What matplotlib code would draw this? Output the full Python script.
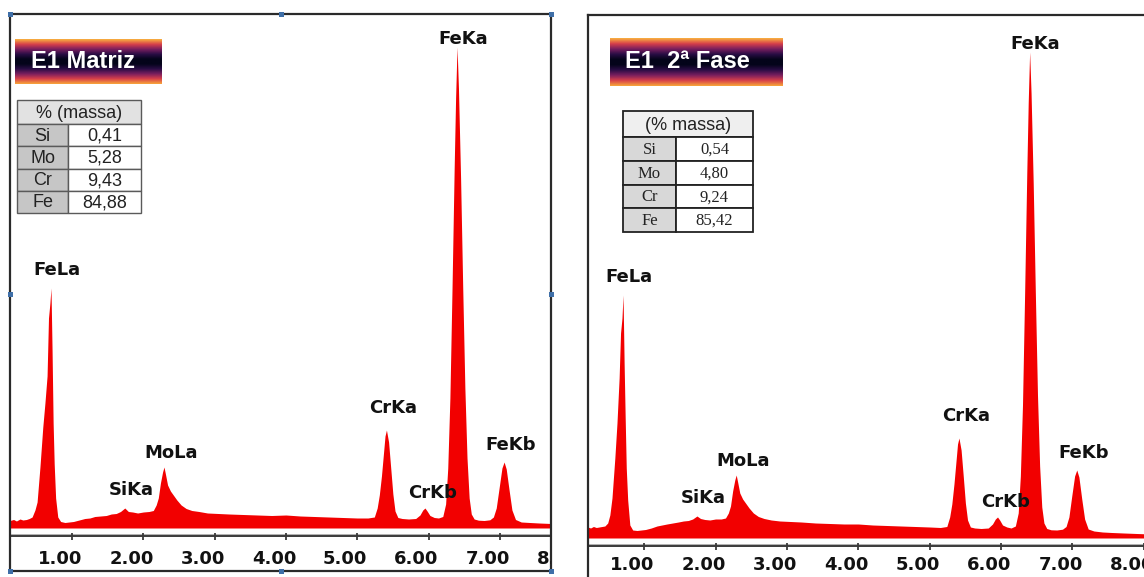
import numpy as np
import matplotlib
matplotlib.use('Agg')
import matplotlib.pyplot as plt
import matplotlib.transforms as mtransforms
from matplotlib.patches import Rectangle
from matplotlib.colors import LinearSegmentedColormap

# ---- composition tables (% massa) ----
elements = ['Si', 'Mo', 'Cr', 'Fe']
massa_matriz = [0.41, 5.28, 9.43, 84.88]
massa_fase = [0.54, 4.80, 9.24, 85.42]

# ---- peak identification ----
peak_names = ['FeLa', 'SiKa', 'MoLa', 'CrKa', 'CrKb', 'FeKa', 'FeKb']
peak_kev = [0.705, 1.74, 2.29, 5.41, 5.95, 6.40, 7.06]

tick_kev = [1, 2, 3, 4, 5, 6, 7, 8]

# ---- EDS spectra (energy keV / counts) ----
kev_matriz = [0.13, 0.18, 0.22, 0.27, 0.31, 0.36, 0.40, 0.44, 0.48, 0.51,
              0.55, 0.59, 0.62, 0.65, 0.67, 0.69, 0.705, 0.72, 0.735, 0.75,
              0.77, 0.80, 0.84, 0.90, 0.96, 1.02, 1.10, 1.18, 1.25, 1.32,
              1.40, 1.48, 1.55, 1.62, 1.68, 1.74, 1.79, 1.85, 1.92, 2.00,
              2.08, 2.14, 2.18, 2.21, 2.24, 2.27, 2.29, 2.31, 2.34, 2.38,
              2.42, 2.47, 2.53, 2.60, 2.68, 2.78, 2.90, 3.05, 3.20, 3.40,
              3.60, 3.80, 4.00, 4.20, 4.40, 4.60, 4.80, 5.00, 5.15, 5.24,
              5.28, 5.31, 5.34, 5.37, 5.39, 5.41, 5.44, 5.47, 5.50, 5.53,
              5.57, 5.63, 5.72, 5.82, 5.88, 5.92, 5.95, 5.98, 6.02, 6.08,
              6.14, 6.20, 6.24, 6.27, 6.30, 6.33, 6.36, 6.38, 6.40, 6.42,
              6.45, 6.48, 6.51, 6.54, 6.57, 6.60, 6.64, 6.70, 6.78, 6.86,
              6.91, 6.95, 6.99, 7.03, 7.06, 7.09, 7.13, 7.17, 7.22, 7.30,
              7.42, 7.55, 7.72]
cps_matriz = [75, 85, 70, 90, 80, 85, 95, 110, 180, 260,
              610, 1010, 1250, 1520, 2100, 2250, 2400, 1780, 1050, 640,
              300, 110, 65, 55, 60, 65, 80, 95, 100, 115,
              120, 125, 140, 145, 165, 200, 165, 160, 150, 160,
              165, 175, 230, 300, 450, 560, 610, 540, 430, 370,
              330, 280, 230, 195, 175, 165, 150, 145, 140, 135,
              130, 125, 130, 120, 115, 110, 105, 100, 100, 110,
              200, 330, 520, 760, 920, 980, 860, 600, 340, 170,
              105, 95, 90, 95, 130, 180, 200, 170, 125, 105,
              100, 115, 240, 600, 1300, 2400, 3600, 4300, 4810, 4400,
              3500, 2400, 1400, 700, 300, 140, 90, 78, 75, 82,
              110, 200, 400, 600, 660, 590, 380, 180, 85, 60,
              55, 50, 45]

kev_fase = [0.21, 0.25, 0.29, 0.33, 0.37, 0.41, 0.45, 0.49, 0.52, 0.55,
            0.59, 0.62, 0.65, 0.67, 0.69, 0.705, 0.72, 0.735, 0.75, 0.77,
            0.80, 0.84, 0.90, 0.96, 1.02, 1.10, 1.18, 1.25, 1.32, 1.40,
            1.48, 1.55, 1.62, 1.68, 1.74, 1.79, 1.85, 1.92, 2.00, 2.08,
            2.14, 2.18, 2.21, 2.24, 2.27, 2.29, 2.31, 2.34, 2.38, 2.42,
            2.47, 2.53, 2.60, 2.68, 2.78, 2.90, 3.05, 3.20, 3.40, 3.60,
            3.80, 4.00, 4.20, 4.40, 4.60, 4.80, 5.00, 5.15, 5.24, 5.28,
            5.31, 5.34, 5.37, 5.39, 5.41, 5.44, 5.47, 5.50, 5.53, 5.57,
            5.63, 5.72, 5.82, 5.88, 5.92, 5.95, 5.98, 6.02, 6.08, 6.14,
            6.20, 6.24, 6.27, 6.30, 6.33, 6.36, 6.38, 6.40, 6.42, 6.45,
            6.48, 6.51, 6.54, 6.57, 6.60, 6.64, 6.70, 6.78, 6.86, 6.91,
            6.95, 6.99, 7.03, 7.06, 7.09, 7.13, 7.17, 7.22, 7.30, 7.42,
            7.55, 7.72, 7.90, 8.10, 8.37]
cps_fase = [110, 100, 115, 105, 110, 115, 120, 150, 230, 400,
            800, 1150, 1600, 2050, 2200, 2430, 1750, 1200, 700, 380,
            130, 80, 75, 80, 85, 100, 120, 130, 140, 150,
            160, 170, 175, 190, 220, 195, 185, 180, 190, 190,
            200, 250, 320, 470, 580, 630, 560, 450, 390, 350,
            300, 250, 215, 195, 180, 170, 165, 160, 150, 145,
            140, 140, 130, 125, 120, 115, 110, 105, 115, 210,
            340, 540, 780, 940, 1000, 880, 620, 350, 180, 110,
            100, 95, 100, 140, 190, 210, 180, 130, 110, 100,
            120, 250, 620, 1330, 2450, 3650, 4350, 4860, 4450, 3550,
            2450, 1430, 720, 310, 150, 95, 82, 80, 88, 115,
            210, 420, 620, 680, 610, 390, 190, 90, 70, 60,
            55, 50, 45, 40, 40]

W, H = 1144, 577
fig = plt.figure(figsize=(W / 100, H / 100), dpi=100)
# pixel coords of the picture, origin top-left
pix = mtransforms.Affine2D().scale(1 / W, -1 / H).translate(0, 1) + fig.transFigure

RED = '#f20000'
grad = LinearSegmentedColormap.from_list('bar', ['#f8b040', '#d8404a', '#7a1f5e', '#2a0d45',
                                                 '#04041a', '#04041a', '#2a0d45', '#7a1f5e',
                                                 '#d8404a', '#f7a43a'])
label_off = {'FeLa': (6, 18), 'SiKa': (6, 18), 'MoLa': (7, 14), 'CrKa': (7, 22),
             'CrKb': (8, 15), 'FeKa': (6, 8), 'FeKb': (7, 17)}


def fig_rect(x0, y0, x1, y1):
    return [x0 / W, 1 - y1 / H, (x1 - x0) / W, (y1 - y0) / H]


def spectrum(box, xlim, ylim, kev, cps, tick_y):
    ax = fig.add_axes(fig_rect(*box))
    ax.fill_between(kev, 0, cps, color=RED, lw=0)
    ax.axhline(-80, color='#3a3a3a', lw=1.4)
    ax.axhline(-58, color='#b0b0b0', lw=0.7)
    ax.vlines(tick_kev, -115, -45, color='#3a3a3a', lw=1.3)
    shift = mtransforms.offset_copy(ax.transData, fig=fig, x=-12, y=0, units='dots')
    for t in tick_kev:
        ax.text(t, tick_y, '%.2f' % t, transform=shift, ha='center', va='center',
                fontsize=13, fontweight='bold', color='#111', clip_on=True)
    for name, e in zip(peak_names, peak_kev):
        dx, dy = label_off[name]
        ax.annotate(name, (e, np.interp(e, kev, cps)), xytext=(dx, dy),
                    textcoords='offset pixels', ha='center', va='center',
                    fontsize=13, fontweight='bold', color='#111')
    ax.set_xlim(*xlim)
    ax.set_ylim(*ylim)
    ax.set_xticks([])
    ax.set_yticks([])
    for s in ax.spines.values():
        s.set_color('#2a2a2a')
        s.set_linewidth(1.6)
    return ax


def title_box(box, text, text_x):
    tax = fig.add_axes(fig_rect(*box))
    tax.imshow(np.linspace(0, 1, 120).reshape(-1, 1), cmap=grad, aspect='auto',
               extent=[0, 1, 0, 1])
    tax.axis('off')
    x0, x1 = box[0], box[2]
    tax.text((text_x - x0) / (x1 - x0), 0.5, text, transform=tax.transAxes,
             ha='left', va='center', color='white', fontsize=17, fontweight='bold',
             family='Liberation Sans')


def table(x0, y0, col_w, head_h, row_h, header, vals, edge, lw, head_bg, lab_bg,
          cell_font, cell_fs, head_font, head_fs):
    tw = sum(col_w)
    fig.add_artist(Rectangle((x0, y0), tw, head_h, transform=pix, facecolor=head_bg,
                             edgecolor=edge, lw=lw))
    fig.text(x0 + tw / 2, y0 + head_h / 2 + 1, header, transform=pix, ha='center',
             va='center', family=head_font, fontsize=head_fs, color='#222')
    for i, (el, v) in enumerate(zip(elements, vals)):
        y = y0 + head_h + i * row_h
        fig.add_artist(Rectangle((x0, y), col_w[0], row_h, transform=pix,
                                 facecolor=lab_bg, edgecolor=edge, lw=lw))
        fig.add_artist(Rectangle((x0 + col_w[0], y), col_w[1], row_h, transform=pix,
                                 facecolor='white', edgecolor=edge, lw=lw))
        fig.text(x0 + col_w[0] / 2, y + row_h / 2 + 1, el, transform=pix, ha='center',
                 va='center', family=cell_font, fontsize=cell_fs, color='#222')
        fig.text(x0 + col_w[0] + col_w[1] / 2, y + row_h / 2 + 1,
                 ('%.2f' % v).replace('.', ','), transform=pix, ha='center',
                 va='center', family=cell_font, fontsize=cell_fs, color='#222')


# left panel: E1 Matriz
spectrum((10, 14, 551, 571), (0.130, 7.718), (-430, 5140), kev_matriz, cps_matriz, -315)
title_box((15, 39, 162, 84), 'E1 Matriz', 31)
table(17, 100, (51, 73), 24, 22.25, '% (massa)', massa_matriz, '#5a5a5a', 1.0,
      '#e2e2e2', '#c6c6c6', 'Liberation Sans', 13, 'Liberation Sans', 13)

# selection handles on the left frame
for hx, hy in [(10, 14), (281, 14), (551, 14), (10, 294), (551, 294),
               (10, 571), (281, 571), (551, 571)]:
    fig.add_artist(Rectangle((hx - 2.5, hy - 2.5), 5, 5, transform=pix,
                             facecolor='#3f6fa8', edgecolor='none'))

# right panel: E1 2a Fase
spectrum((588, 15, 1170, 592), (0.214, 8.366), (-540, 5230), kev_fase, cps_fase, -275)
title_box((610, 38, 783, 86), 'E1  2ª Fase', 625)
table(623, 111, (53, 77), 26, 23.75, '(% massa)', massa_fase, '#222222', 1.3,
      '#efefef', '#d8d8d8', 'Liberation Serif', 12, 'Liberation Sans', 13)

fig.savefig('out.png', dpi=100)
